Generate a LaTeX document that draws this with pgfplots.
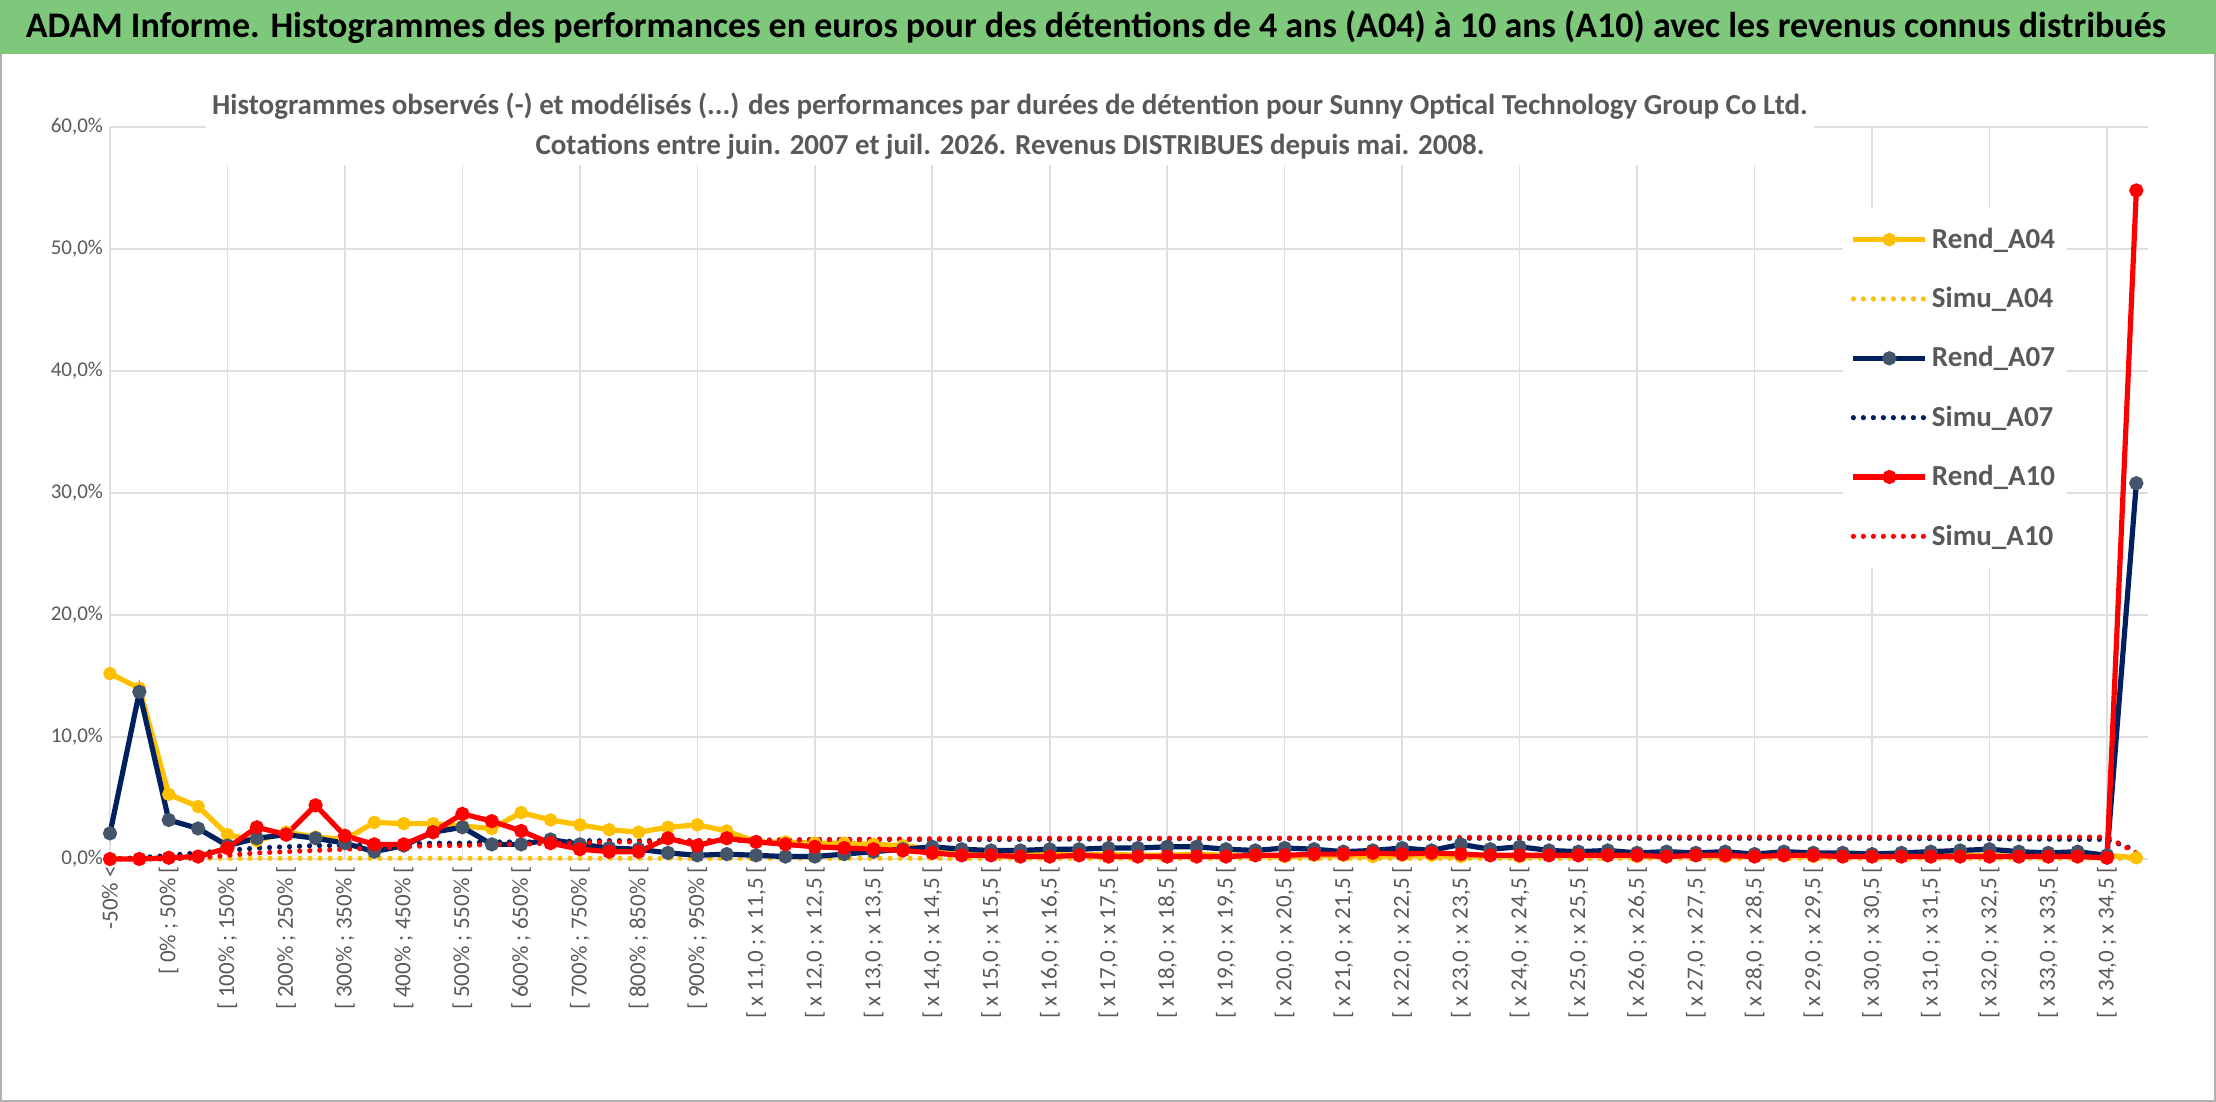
\documentclass[border=0pt]{standalone}
\usepackage{pgfplots}
\pgfplotsset{compat=1.18}
\usepackage{fontspec}
\setmainfont{Carlito}
\definecolor{ttl}{HTML}{595959}
\definecolor{ygold}{HTML}{FFC000}
\definecolor{navy}{HTML}{002060}
\definecolor{slate}{HTML}{44546A}
\definecolor{gband}{HTML}{7DC87A}
\begin{document}
\begin{tikzpicture}[x=1pt,y=1pt]
\fill[white] (0,0) rectangle (1108,551);
\fill[gband] (0,524) rectangle (1108,551);
\draw[gray!60,line width=0.6pt] (0.5,524) -- (0.5,0.5) -- (1107.5,0.5) -- (1107.5,524);
\node[font=\fontsize{18}{20}\selectfont\bfseries] at (548,537.5) {ADAM Informe. Histogrammes des performances en euros pour des détentions de 4 ans (A04) à 10 ans (A10) avec les revenus connus distribués};
\begin{axis}[at={(55pt,121.5pt)},anchor=origin,scale only axis,width=1019pt,height=366pt,
  xmin=0,xmax=69.4,ymin=0,ymax=60,clip=false,
  axis line style={draw=none},tick style={draw=none},
  ytick={0,10,20,30,40,50,60},
  yticklabels={{0,0\%},{10,0\%},{20,0\%},{30,0\%},{40,0\%},{50,0\%},{60,0\%}},
  ymajorgrids,grid style={gray!25,line width=0.8pt},
  yticklabel style={font=\fontsize{10.5}{12}\selectfont,text=ttl},
  xtick={0,2,...,68},
  xticklabels={{-50\% <},{[ 0\% ; 50\% [},{[ 100\% ; 150\% [},{[ 200\% ; 250\% [},{[ 300\% ; 350\% [},{[ 400\% ; 450\% [},{[ 500\% ; 550\% [},{[ 600\% ; 650\% [},{[ 700\% ; 750\% [},{[ 800\% ; 850\% [},{[ 900\% ; 950\% [},
  {[ x 11,0 ; x 11,5 [},{[ x 12,0 ; x 12,5 [},{[ x 13,0 ; x 13,5 [},{[ x 14,0 ; x 14,5 [},{[ x 15,0 ; x 15,5 [},{[ x 16,0 ; x 16,5 [},{[ x 17,0 ; x 17,5 [},{[ x 18,0 ; x 18,5 [},{[ x 19,0 ; x 19,5 [},{[ x 20,0 ; x 20,5 [},{[ x 21,0 ; x 21,5 [},{[ x 22,0 ; x 22,5 [},{[ x 23,0 ; x 23,5 [},{[ x 24,0 ; x 24,5 [},{[ x 25,0 ; x 25,5 [},{[ x 26,0 ; x 26,5 [},{[ x 27,0 ; x 27,5 [},{[ x 28,0 ; x 28,5 [},{[ x 29,0 ; x 29,5 [},{[ x 30,0 ; x 30,5 [},{[ x 31,0 ; x 31,5 [},{[ x 32,0 ; x 32,5 [},{[ x 33,0 ; x 33,5 [},{[ x 34,0 ; x 34,5 [}},
  xticklabel style={font=\fontsize{11.5}{13}\selectfont,text=ttl,rotate=90,anchor=east},
  extra x ticks={0,4,...,68},extra x tick labels={},
  extra x tick style={grid=major,tick style={draw=none}},
  legend style={at={(0.85,0.89)},anchor=north west,draw=none,fill=white,font=\fontsize{14.5}{16}\selectfont\bfseries,text=ttl,row sep=14pt,inner xsep=4pt,inner ysep=8pt},
  legend cell align=left,
  legend image code/.code={\draw[#1] (0pt,0pt) -- (36pt,0pt); \draw[#1,dash pattern=on 0pt off 100pt] plot coordinates {(18pt,0pt)};},
]
\addplot[ygold,line width=2.6pt,mark=*,mark size=2pt,mark options={solid,fill=ygold,draw=ygold}] coordinates {
(0,15.2)(1,14.0)(2,5.3)(3,4.3)(4,2.0)(5,1.5)(6,2.2)(7,1.8)(8,1.6)(9,3.0)(10,2.9)(11,2.9)(12,2.7)(13,2.5)(14,3.8)(15,3.2)(16,2.8)(17,2.4)(18,2.2)(19,2.6)(20,2.8)(21,2.3)
(22,1.4)(23,1.4)(24,1.3)(25,1.3)(26,1.2)(27,1.1)(28,0.8)(29,0.6)(30,0.5)(31,0.5)(32,0.4)(33,0.3)(34,0.4)(35,0.3)(36,0.3)(37,0.4)(38,0.3)(39,0.3)(40,0.2)(41,0.3)(42,0.3)(43,0.2)(44,0.3)(45,0.3)(46,0.2)(47,0.3)(48,0.2)(49,0.3)(50,0.3)(51,0.3)(52,0.2)(53,0.3)(54,0.3)(55,0.2)(56,0.3)(57,0.3)(58,0.2)(59,0.3)(60,0.3)(61,0.2)(62,0.3)(63,0.3)(64,0.3)(65,0.2)(66,0.3)(67,0.3)(68,0.3)(69,0.1)};
\addlegendentry{Rend\_A04}
\addplot[ygold,line width=2.6pt,line cap=round,dash pattern=on 0pt off 5pt] coordinates {
(0,0.05)(4,0.05)(10,0.05)(20,0.05)(30,0.05)(40,0.05)(50,0.05)(60,0.05)(69,0.05)};
\addlegendentry{Simu\_A04}
\addplot[navy,line width=2.6pt,mark=*,mark size=2.2pt,mark options={solid,fill=slate,draw=slate}] coordinates {
(0,2.1)(1,13.7)(2,3.2)(3,2.5)(4,1.1)(5,1.7)(6,2.0)(7,1.7)(8,1.3)(9,0.6)(10,1.1)(11,2.2)(12,2.6)(13,1.2)(14,1.2)(15,1.6)(16,1.2)(17,0.9)(18,0.8)(19,0.5)(20,0.3)(21,0.4)
(22,0.3)(23,0.2)(24,0.2)(25,0.4)(26,0.6)(27,0.8)(28,1.0)(29,0.8)(30,0.7)(31,0.7)(32,0.8)(33,0.8)(34,0.9)(35,0.9)(36,1.0)(37,1.0)(38,0.8)(39,0.7)(40,0.9)(41,0.8)(42,0.6)(43,0.7)(44,0.9)(45,0.7)(46,1.2)(47,0.8)(48,1.0)(49,0.7)(50,0.6)(51,0.7)(52,0.5)(53,0.6)(54,0.5)(55,0.6)(56,0.4)(57,0.6)(58,0.5)(59,0.5)(60,0.4)(61,0.5)(62,0.6)(63,0.7)(64,0.8)(65,0.6)(66,0.5)(67,0.6)(68,0.3)(69,30.8)};
\addlegendentry{Rend\_A07}
\addplot[navy,line width=2.6pt,line cap=round,dash pattern=on 0pt off 5pt] coordinates {
(0,0)(1,0.1)(2,0.3)(3,0.5)(4,0.7)(5,0.9)(6,1.0)(7,1.1)(8,1.1)(9,1.2)(10,1.2)(11,1.3)(12,1.3)(13,1.4)(14,1.4)(15,1.4)(16,1.5)(17,1.5)(20,1.5)(25,1.6)(30,1.6)(40,1.7)(50,1.7)(60,1.7)(68,1.6)(69,0.7)};
\addlegendentry{Simu\_A07}
\addplot[red,line width=2.6pt,mark=*,mark size=2.2pt,mark options={solid,fill=red,draw=red}] coordinates {
(0,0)(1,0)(2,0.1)(3,0.2)(4,0.9)(5,2.6)(6,2.0)(7,4.4)(8,1.9)(9,1.2)(10,1.2)(11,2.2)(12,3.7)(13,3.1)(14,2.3)(15,1.3)(16,0.8)(17,0.6)(18,0.6)(19,1.7)(20,1.1)(21,1.7)
(22,1.4)(23,1.2)(24,1.0)(25,0.9)(26,0.8)(27,0.7)(28,0.5)(29,0.3)(30,0.3)(31,0.2)(32,0.2)(33,0.3)(34,0.2)(35,0.2)(36,0.2)(37,0.2)(38,0.2)(39,0.3)(40,0.3)(41,0.4)(42,0.4)(43,0.5)(44,0.4)(45,0.5)(46,0.4)(47,0.3)(48,0.3)(49,0.3)(50,0.3)(51,0.3)(52,0.3)(53,0.2)(54,0.3)(55,0.3)(56,0.2)(57,0.3)(58,0.3)(59,0.2)(60,0.2)(61,0.2)(62,0.2)(63,0.2)(64,0.2)(65,0.2)(66,0.2)(67,0.2)(68,0.1)(69,54.8)};
\addlegendentry{Rend\_A10}
\addplot[red,line width=2.6pt,line cap=round,dash pattern=on 0pt off 5pt] coordinates {
(0,0)(1,0)(2,0)(3,0.1)(4,0.3)(5,0.5)(6,0.6)(7,0.7)(8,0.8)(9,0.9)(10,1.0)(11,1.1)(12,1.1)(13,1.2)(14,1.2)(15,1.3)(16,1.3)(17,1.4)(18,1.4)(19,1.4)(20,1.5)(25,1.6)(30,1.7)(40,1.7)(50,1.8)(60,1.8)(68,1.8)(69,0.5)};
\addlegendentry{Simu\_A10}
\end{axis}
\node[fill=white,inner sep=3pt,align=center,font=\fontsize{14.5}{20}\selectfont\bfseries,text=ttl] at (505,488) {Histogrammes observés (-) et modélisés (...) des performances par durées de détention pour Sunny Optical Technology Group Co Ltd.\\ Cotations entre juin. 2007 et juil. 2026. Revenus DISTRIBUES depuis mai. 2008.};
\end{tikzpicture}
\end{document}
